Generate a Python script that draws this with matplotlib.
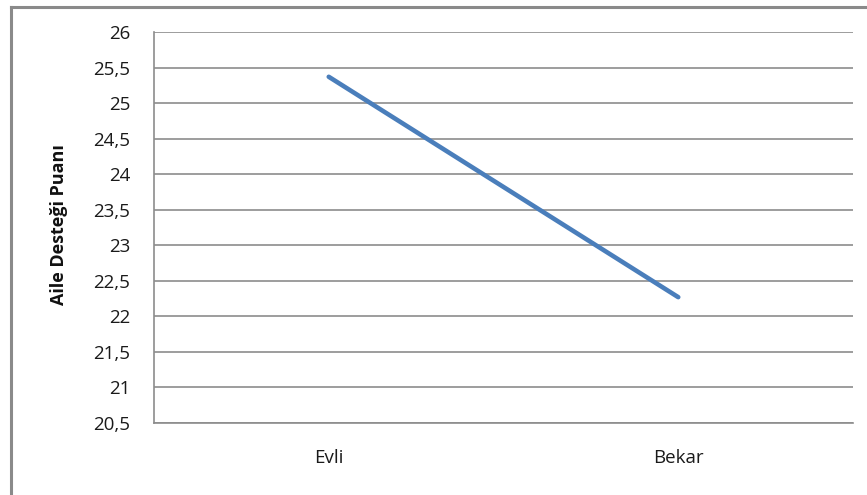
import matplotlib
matplotlib.use("Agg")
import matplotlib.pyplot as plt
from matplotlib.lines import Line2D
from matplotlib.ticker import FuncFormatter

categories = ["Evli", "Bekar"]
values = [25.37, 22.27]
y_ticks = [20.5, 21, 21.5, 22, 22.5, 23, 23.5, 24, 24.5, 25, 25.5, 26]
y_label = "Aile Desteği Puanı"

plt.rcParams["font.family"] = ["Open Sans", "DejaVu Sans"]

fig = plt.figure(figsize=(8.67, 4.95), dpi=100)
fig.patch.set_facecolor("white")

# outer chart frame (top and left edges)
frame_color = "#8a8a8a"
fig.add_artist(Line2D([11 / 867, 11 / 867], [0, 1 - 7 / 495], transform=fig.transFigure,
                      color=frame_color, lw=2.2))
fig.add_artist(Line2D([11 / 867, 1], [1 - 7 / 495, 1 - 7 / 495], transform=fig.transFigure,
                      color=frame_color, lw=2.2))

ax = fig.add_axes([154 / 867, 72 / 495, 699 / 867, 391 / 495])
x = list(range(len(categories)))
ax.plot(x, values, color="#4a7ebb", lw=3.3, solid_capstyle="round")

ax.set_xlim(-0.5, len(categories) - 0.5)
ax.set_ylim(y_ticks[0], y_ticks[-1])
ax.set_yticks(y_ticks)
ax.yaxis.set_major_formatter(FuncFormatter(lambda v, p: f"{v:g}".replace(".", ",")))
ax.set_xticks(x)
ax.set_xticklabels(categories)

grid_color = "#8c8c8c"
ax.grid(axis="y", color=grid_color, lw=1.2)
ax.set_axisbelow(True)
for side in ("top", "right"):
    ax.spines[side].set_visible(False)
for side in ("left", "bottom"):
    ax.spines[side].set_color(grid_color)
    ax.spines[side].set_linewidth(1.2)

ax.tick_params(axis="y", length=0, pad=17, labelsize=13.5, labelcolor="#1a1a1a")
ax.tick_params(axis="x", length=0, pad=19, labelsize=13.5, labelcolor="#1a1a1a")

fig.text(59 / 867, 1 - 225 / 495, y_label, rotation=90, ha="center", va="center",
         fontsize=13, fontweight="bold", color="#111111")

fig.savefig("out.png", dpi=100, facecolor="white")
